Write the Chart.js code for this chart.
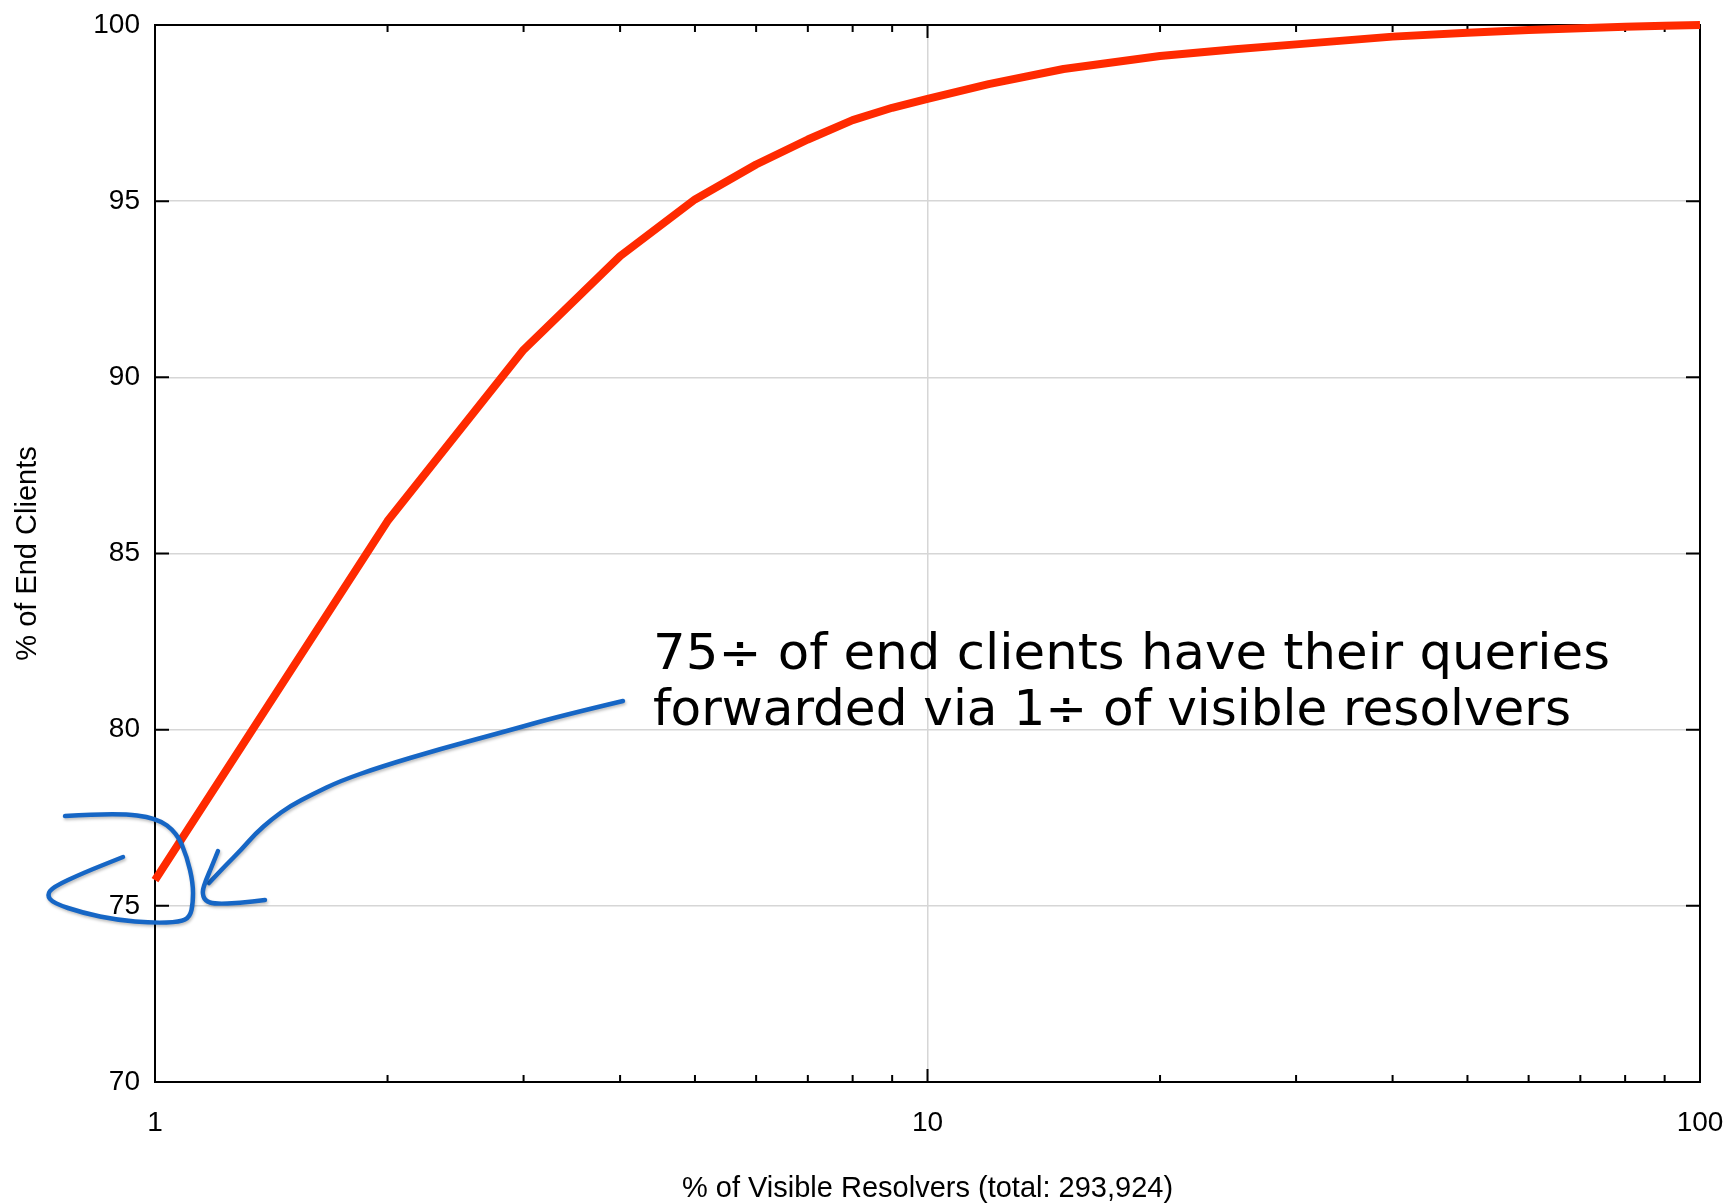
<!DOCTYPE html>
<html>
<head>
<meta charset="utf-8">
<script src="https://cdn.jsdelivr.net/npm/chart.js@4.4.1/dist/chart.umd.min.js"></script>
<style>
  html, body { margin: 0; padding: 0; background: #fff; }
  #wrap { width: 1729px; height: 1204px; position: relative; }
</style>
</head>
<body>
<div id="wrap"><canvas id="cdf"></canvas></div>
<script>
// values
const resolverPct = [1, 2, 3, 4, 5, 6, 7, 8, 9, 10, 12, 15, 20, 25, 30, 40, 50, 60, 70, 80, 90, 100];
const clientPct = [75.73, 85.92, 90.78, 93.44, 95.05, 96.04, 96.75, 97.3, 97.65, 97.9, 98.32, 98.75, 99.12, 99.31, 99.45, 99.67, 99.78, 99.86, 99.91, 99.95, 99.98, 100];
const xMajorTicks = [1, 10, 100];
const xMinorTicks = [2, 3, 4, 5, 6, 7, 8, 9, 20, 30, 40, 50, 60, 70, 80, 90];
const yTicks = [70, 75, 80, 85, 90, 95, 100];
const noteLines = ["75÷ of end clients have their queries", "forwarded via 1÷ of visible resolvers"];

Chart.defaults.font.family = '"Liberation Sans", Arial, sans-serif';
Chart.defaults.color = "#000";

// box round the plot, ticks pointing inward
const frame = {
  id: "frame",
  beforeDatasetsDraw(chart) {
    const { ctx, chartArea: a, scales: { x, y } } = chart;
    ctx.save();
    ctx.strokeStyle = "#000";
    ctx.lineWidth = 2;
    ctx.strokeRect(a.left, a.top, a.right - a.left, a.bottom - a.top);
    ctx.beginPath();
    xMajorTicks.concat(xMinorTicks).forEach(v => {
      const px = x.getPixelForValue(v);
      const len = xMajorTicks.includes(v) ? 13 : 7;
      ctx.moveTo(px, a.bottom); ctx.lineTo(px, a.bottom - len);
      ctx.moveTo(px, a.top); ctx.lineTo(px, a.top + len);
    });
    yTicks.forEach(v => {
      const py = y.getPixelForValue(v);
      ctx.moveTo(a.left, py); ctx.lineTo(a.left + 14, py);
      ctx.moveTo(a.right, py); ctx.lineTo(a.right - 14, py);
    });
    ctx.stroke();
    ctx.restore();
  }
};

// hand drawn call-out
const arrowLine = [[623,701],[560,716],[507,731],[440,749],[380,767],[340,781],[313,794],[290,806],[272,819],[255,834],[242,849],[225,866],[209,883]];
const arrowHook = [[218,851],[212,866],[206,880],[202,892],[205,901],[215,904],[240,903],[265,900]];
const loop = [[65,816],[117,813],[157,818],[177,833],[187,857],[193,883],[193,903],[190,917],[180,922],[153,923],[117,920],[83,913],[53,903],[47,895],[53,887],[83,873],[123,857]];

function smoothPath(ctx, pts) {
  ctx.beginPath();
  ctx.moveTo(pts[0][0], pts[0][1]);
  for (let i = 1; i < pts.length - 1; i++) {
    const mx = (pts[i][0] + pts[i + 1][0]) / 2;
    const my = (pts[i][1] + pts[i + 1][1]) / 2;
    ctx.quadraticCurveTo(pts[i][0], pts[i][1], mx, my);
  }
  const last = pts[pts.length - 1];
  ctx.lineTo(last[0], last[1]);
  ctx.stroke();
}

const notes = {
  id: "notes",
  afterDraw(chart) {
    const ctx = chart.ctx;
    ctx.save();
    ctx.strokeStyle = "#1666c5";
    ctx.lineWidth = 4.5;
    ctx.lineCap = "round";
    ctx.lineJoin = "round";
    ctx.shadowColor = "rgba(0,0,0,0.25)";
    ctx.shadowBlur = 3;
    ctx.shadowOffsetX = 1;
    ctx.shadowOffsetY = 2;
    smoothPath(ctx, arrowLine);
    smoothPath(ctx, arrowHook);
    smoothPath(ctx, loop);
    ctx.restore();

    ctx.save();
    ctx.fillStyle = "#000";
    ctx.font = '50px "DejaVu Sans"';
    ctx.textBaseline = "alphabetic";
    const widths = [957, 918];
    const bases = [669, 725];
    noteLines.forEach((t, i) => {
      const w = ctx.measureText(t).width;
      ctx.save();
      ctx.translate(653, bases[i]);
      ctx.scale(widths[i] / w, 1);
      ctx.fillText(t, 0, 0);
      ctx.restore();
    });
    ctx.restore();
  }
};

new Chart(document.getElementById("cdf"), {
  type: "line",
  data: {
    datasets: [{
      data: resolverPct.map((v, i) => ({ x: v, y: clientPct[i] })),
      borderColor: "#ff2a00",
      borderWidth: 8,
      pointRadius: 0,
      tension: 0,
      fill: false,
      clip: false,
      borderCapStyle: "butt",
      borderJoinStyle: "round"
    }]
  },
  options: {
    responsive: true,
    maintainAspectRatio: false,
    animation: false,
    layout: { padding: { top: 25, right: 29, left: 0, bottom: 0 } },
    plugins: { legend: { display: false }, tooltip: { enabled: false } },
    scales: {
      x: {
        type: "logarithmic",
        min: 1,
        max: 100,
        afterBuildTicks: s => {
          s.ticks = xMajorTicks.concat(xMinorTicks).sort((a, b) => a - b).map(v => ({ value: v }));
        },
        afterFit: s => { s.height = 122; s.paddingLeft = 0; s.paddingRight = 0; },
        ticks: {
          autoSkip: false,
          maxRotation: 0,
          padding: 24,
          color: "#000",
          font: { size: 28 },
          callback: v => xMajorTicks.includes(v) ? String(v) : ""
        },
        grid: {
          drawTicks: false,
          lineWidth: 1.5,
          color: c => (c.tick && c.tick.value === 10) ? "#d6d6d6" : "rgba(0,0,0,0)"
        },
        border: { display: false },
        title: {
          display: true,
          text: "% of Visible Resolvers (total: 293,924)",
          color: "#000",
          font: { size: 29, lineHeight: 1 },
          padding: { top: 0, bottom: 1 }
        }
      },
      y: {
        min: 70,
        max: 100,
        afterBuildTicks: s => { s.ticks = yTicks.map(v => ({ value: v })); },
        afterFit: s => { s.width = 155; s.paddingTop = 0; s.paddingBottom = 0; },
        ticks: { padding: 15, color: "#000", font: { size: 28 } },
        grid: {
          drawTicks: false,
          lineWidth: 1.5,
          color: c => (c.tick && (c.tick.value === 70 || c.tick.value === 100)) ? "rgba(0,0,0,0)" : "#d6d6d6"
        },
        border: { display: false },
        title: {
          display: true,
          text: "% of End Clients",
          color: "#000",
          font: { size: 29, lineHeight: 1 },
          padding: { top: 13, bottom: 0 }
        }
      }
    }
  },
  plugins: [frame, notes]
});
</script>
</body>
</html>
